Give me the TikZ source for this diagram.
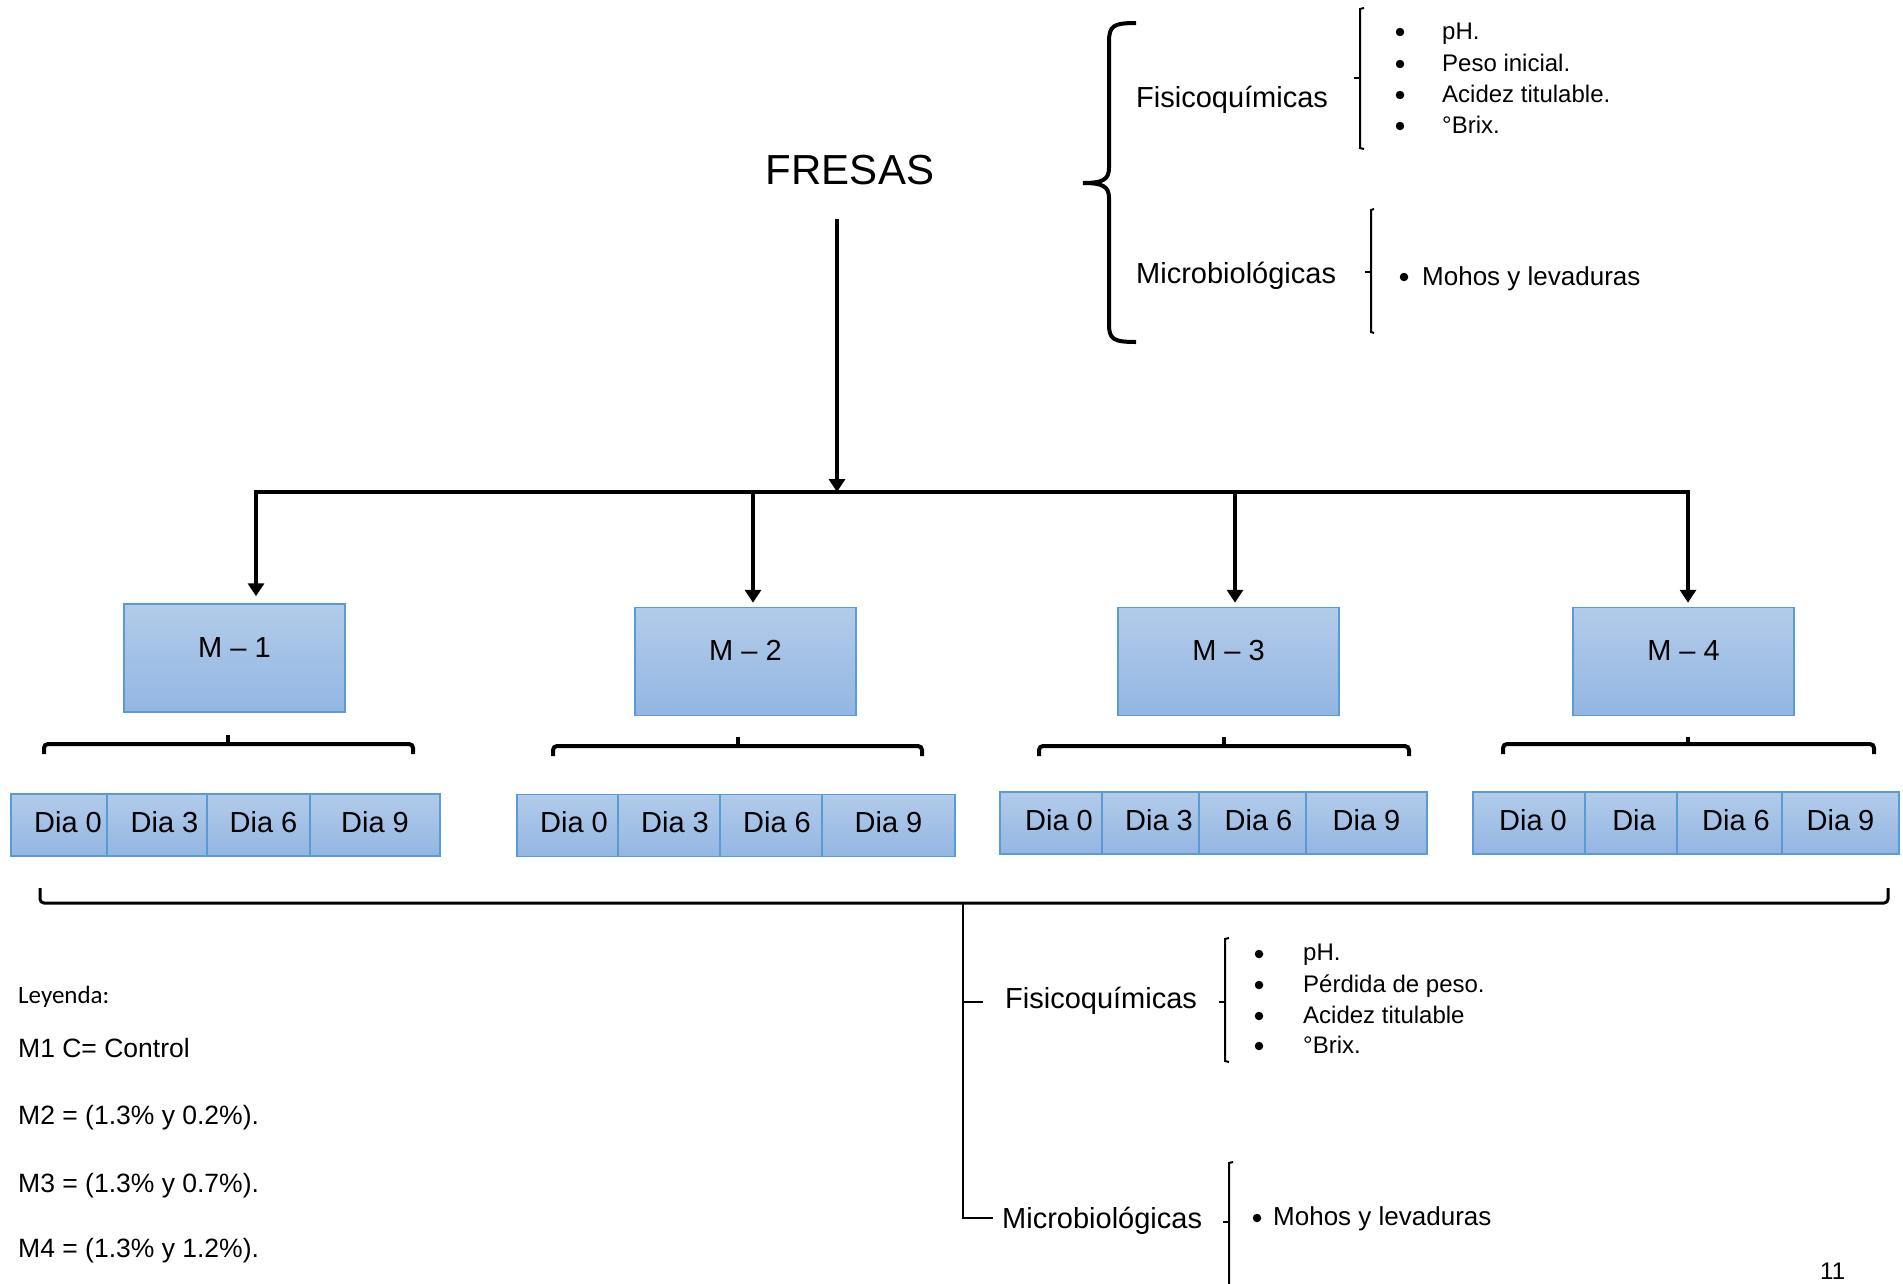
\documentclass[tikz,border=0pt]{standalone}
\usepackage{fontspec}
\setmainfont{Liberation Sans}
\newfontfamily\calibfont{Carlito}
\usetikzlibrary{arrows.meta}
\definecolor{boxtop}{HTML}{B2CBEA}
\definecolor{boxbot}{HTML}{93B6E2}
\definecolor{boxline}{HTML}{5B9BD5}
\begin{document}
\begin{tikzpicture}[x=1pt,y=-1pt,
  lbl/.style={inner sep=0pt, anchor=base west, font=\fontsize{29pt}{34pt}\selectfont},
  itemtxt/.style={inner sep=0pt, anchor=base west, font=\fontsize{24pt}{28pt}\selectfont},
  mohtxt/.style={inner sep=0pt, anchor=base west, font=\fontsize{26pt}{30pt}\selectfont},
  legtxt/.style={inner sep=0pt, anchor=base west, font=\fontsize{26.5pt}{30pt}\selectfont},
  bul/.style={fill=black, draw=none, circle, minimum size=8.5pt, inner sep=0pt},
  mbox/.style={draw=boxline, line width=1.5pt, top color=boxtop, bottom color=boxbot, inner sep=0pt,
    font=\fontsize{29pt}{34pt}\selectfont, text height=20pt, text depth=22pt,
    minimum width=221pt, minimum height=108pt},
  dbox/.style={draw=boxline, line width=1.5pt, top color=boxtop, bottom color=boxbot, inner sep=0pt,
    font=\fontsize{29pt}{34pt}\selectfont, text height=21pt, text depth=7pt, minimum height=62pt},
  arr/.style={line width=4pt, -{Triangle[width=16pt,length=13pt]}},
  heavy/.style={line width=4pt},
  thinbr/.style={line width=2pt},
]
\useasboundingbox (0,0) rectangle (1903,1283);
\fill[white] (0,0) rectangle (1903,1283);

% FRESAS and trunk
\node[inner sep=0pt, anchor=base, font=\fontsize{42pt}{48pt}\selectfont] (fresas) at (850,184) {FRESAS};
\coordinate (fstart) at (837,219);
\coordinate (busC) at (837,492);
\coordinate (bus1) at (256,492);
\coordinate (bus2) at (753,492);
\coordinate (bus3) at (1235,492);
\coordinate (bus4) at (1688,492);
\draw[arr] (fstart) -- (busC);
\draw[heavy, line cap=rect] (bus1) -- (bus4);

% M boxes
\node[mbox] (m1) at (234.5,658) {M – 1};
\node[mbox] (m2) at (745.5,661.5) {M – 2};
\node[mbox] (m3) at (1228.5,661.5) {M – 3};
\node[mbox] (m4) at (1683.5,661.5) {M – 4};
\draw[arr, shorten >=7pt] (bus1) -- (bus1 |- m1.north);
\draw[arr, shorten >=4pt] (bus2) -- (bus2 |- m2.north);
\draw[arr, shorten >=4pt] (bus3) -- (bus3 |- m3.north);
\draw[arr, shorten >=4pt] (bus4) -- (bus4 |- m4.north);

% braces under M boxes
\draw[heavy, rounded corners=4pt] (44,754) -- (44,744) -- (413,744) -- (413,754);
\draw[heavy] (228,744) -- (228,735);
\draw[heavy, rounded corners=4pt] (553,756) -- (553,746) -- (922,746) -- (922,756);
\draw[heavy] (738,746) -- (738,737);
\draw[heavy, rounded corners=4pt] (1039,756) -- (1039,746) -- (1409,746) -- (1409,756);
\draw[heavy] (1224,746) -- (1224,737);
\draw[heavy, rounded corners=4pt] (1503,754) -- (1503,744) -- (1874,744) -- (1874,754);
\draw[heavy] (1688,744) -- (1688,737);

% Dia boxes row 1
\node[dbox, minimum width=114pt] (d10) at (68,825) {Dia 0};
\node[dbox, minimum width=115pt] (d13) at (164.5,825) {Dia 3};
\node[dbox, minimum width=113pt] (d16) at (263.5,825) {Dia 6};
\node[dbox, minimum width=130pt] (d19) at (375,825) {Dia 9};
% row 2
\node[dbox, minimum width=114pt] (d20) at (574,825.5) {Dia 0};
\node[dbox, minimum width=114pt] (d23) at (675,825.5) {Dia 3};
\node[dbox, minimum width=114pt] (d26) at (777,825.5) {Dia 6};
\node[dbox, minimum width=133pt] (d29) at (888.5,825.5) {Dia 9};
% row 3
\node[dbox, minimum width=118pt] (d30) at (1059,823) {Dia 0};
\node[dbox, minimum width=114pt] (d33) at (1159,823) {Dia 3};
\node[dbox, minimum width=119pt] (d36) at (1258.5,823) {Dia 6};
\node[dbox, minimum width=121pt] (d39) at (1366.5,823) {Dia 9};
% row 4
\node[dbox, minimum width=120pt] (d40) at (1533,823) {Dia 0};
\node[dbox, minimum width=98pt] (d43) at (1634,823) {Dia};
\node[dbox, minimum width=118pt] (d46) at (1736,823) {Dia 6};
\node[dbox, minimum width=117pt] (d49) at (1840.5,823) {Dia 9};

% top-right brace
\draw[heavy] (1136,23) .. controls (1113,23) and (1109,26) .. (1109,42) -- (1109,168)
  .. controls (1109,180) and (1102,183) .. (1083,183)
  .. controls (1102,183) and (1109,186) .. (1109,198) -- (1109,324)
  .. controls (1109,339) and (1113,342) .. (1136,342);
\node[lbl] (tfis) at (1136,107) {Fisicoquímicas};
\node[lbl] (tmic) at (1136,283) {Microbiológicas};
\draw[thinbr] (1364,8) -- (1360,9) -- (1360,148) -- (1364,149);
\draw[thinbr] (1354,78) -- (1360,78);
\draw[thinbr] (1374,209) -- (1371,210) -- (1371,332) -- (1374,333);
\draw[thinbr] (1365,272) -- (1371,272);
\node[bul] (tb1) at (1400,32) {};
\node[bul] (tb2) at (1400,64) {};
\node[bul] (tb3) at (1400,95) {};
\node[bul] (tb4) at (1400,126) {};
\node[itemtxt] (ti1) at (1442,39) {pH.};
\node[itemtxt] (ti2) at (1442,71) {Peso inicial.};
\node[itemtxt] (ti3) at (1442,102) {Acidez titulable.};
\node[itemtxt] (ti4) at (1442,133) {°Brix.};
\node[bul] (tb5) at (1404,277) {};
\node[mohtxt] (ti5) at (1422,285) {Mohos y levaduras};

% bottom brace
\draw[line width=3pt, rounded corners=4pt] (40,888) -- (40,903) -- (1888,903) -- (1888,888);
\coordinate (bc) at (963,903);
\coordinate (bmic) at (993,1218);
\coordinate (bfis) at (983,1002);
\draw[line width=2.5pt] (bc) |- (bmic);
\draw[line width=2.5pt] (bc |- bfis) -- (bfis);
\node[lbl] (bfist) at (1005,1008) {Fisicoquímicas};
\node[lbl] (bmict) at (1002,1228) {Microbiológicas};
\draw[thinbr] (1229,938) -- (1225,939) -- (1225,1061) -- (1229,1062);
\draw[thinbr] (1219,1002) -- (1225,1002);
\draw[thinbr] (1233,1162) -- (1229,1163) -- (1229,1300);
\draw[thinbr] (1223,1222) -- (1229,1222);
\node[bul] (bb1) at (1259,954) {};
\node[bul] (bb2) at (1259,985) {};
\node[bul] (bb3) at (1259,1016) {};
\node[bul] (bb4) at (1259,1046) {};
\node[itemtxt] (bi1) at (1303,960) {pH.};
\node[itemtxt] (bi2) at (1303,992) {Pérdida de peso.};
\node[itemtxt] (bi3) at (1303,1023) {Acidez titulable};
\node[itemtxt] (bi4) at (1303,1053) {°Brix.};
\node[bul] (bb5) at (1257,1218) {};
\node[mohtxt] (bi5) at (1273,1225) {Mohos y levaduras};

% legend
\node[inner sep=0pt, anchor=base west, font=\calibfont\fontsize{25pt}{30pt}\selectfont] (ley) at (18,1003) {Leyenda:};
\node[legtxt] (lg1) at (18,1057) {M1 C= Control};
\node[legtxt] (lg2) at (18,1124) {M2 = (1.3\% y 0.2\%).};
\node[legtxt] (lg3) at (18,1192) {M3 = (1.3\% y 0.7\%).};
\node[legtxt] (lg4) at (18,1257) {M4 = (1.3\% y 1.2\%).};

% page number
\node[itemtxt] (pg) at (1820,1279) {11};
\end{tikzpicture}
\end{document}
